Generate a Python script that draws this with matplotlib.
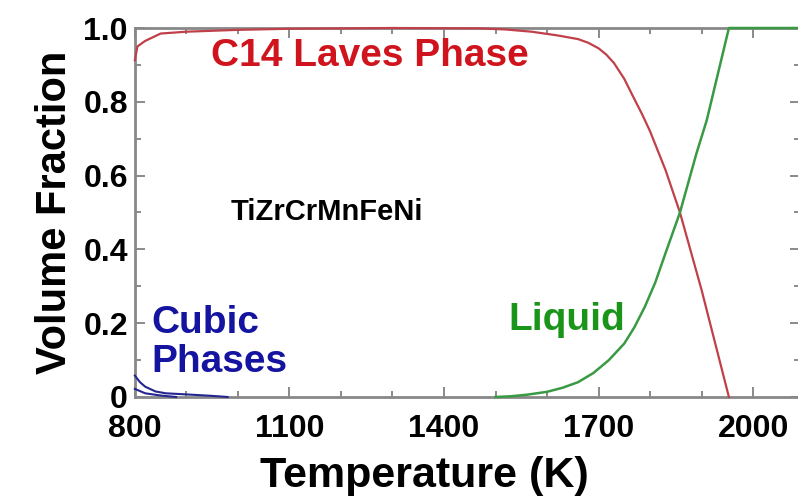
import numpy as np
import matplotlib.pyplot as plt
from matplotlib.ticker import MultipleLocator

plt.rcParams['font.family'] = ['Liberation Sans', 'DejaVu Sans']
plt.rcParams['font.weight'] = 'bold'

# C14 Laves phase
t_laves = [800, 805, 820, 850, 900, 1000, 1100, 1300, 1470, 1520, 1570, 1620, 1660, 1680,
           1700, 1715, 1730, 1750, 1765, 1785, 1800, 1830, 1858, 1900, 1953]
v_laves = [0.913, 0.95, 0.965, 0.985, 0.99, 0.995, 0.998, 1.0, 0.999, 0.996, 0.99,
           0.98, 0.97, 0.96, 0.945, 0.928, 0.905, 0.862, 0.82, 0.765, 0.72, 0.615,
           0.50, 0.29, 0.0]

# liquid
t_liq = [1500, 1530, 1560, 1600, 1630, 1660, 1690, 1720, 1750, 1770, 1790, 1810,
         1830, 1858, 1890, 1910, 1953, 2091]
v_liq = [0.0, 0.002, 0.006, 0.014, 0.025, 0.04, 0.065, 0.1, 0.145, 0.19, 0.245,
         0.31, 0.39, 0.50, 0.66, 0.75, 1.0, 1.0]

# cubic phases
t_cub1 = [800, 810, 820, 840, 860, 900, 950, 980]
v_cub1 = [0.058, 0.04, 0.028, 0.015, 0.01, 0.007, 0.003, 0.0]
t_cub2 = [800, 820, 850, 880]
v_cub2 = [0.022, 0.01, 0.004, 0.0]

xticks = [800, 1100, 1400, 1700, 2000]
yticks = [0, 0.2, 0.4, 0.6, 0.8, 1.0]
ylabels = ['0', '0.2', '0.4', '0.6', '0.8', '1.0']

fig = plt.figure(figsize=(7.98, 5.01), dpi=100)
ax = fig.add_axes([0.169, 0.2076, 0.8335, 0.7365])

red, green, blue = '#c0404a', '#3a9a44', '#25258f'
ax.plot(t_laves, v_laves, color=red, lw=1.6, clip_on=False, zorder=3)
ax.plot(t_liq, v_liq, color=green, lw=1.8, clip_on=False, zorder=3)
ax.plot(t_cub1, v_cub1, color=blue, lw=1.5, clip_on=False, zorder=3)
ax.plot(t_cub2, v_cub2, color=blue, lw=1.5, clip_on=False, zorder=3)

ax.set_xlim(800, 2091)
ax.set_ylim(0, 1.0)
ax.set_xticks(xticks)
ax.set_yticks(yticks)
ax.set_yticklabels(ylabels)
ax.xaxis.set_minor_locator(MultipleLocator(100))
ax.yaxis.set_minor_locator(MultipleLocator(0.1))
ax.tick_params(which='both', direction='in', top=True, right=True, color='#777777',
               width=1.2, labelsize=23)
ax.tick_params(axis='x', pad=12)
ax.tick_params(axis='y', pad=5)
ax.tick_params(which='major', length=7)
ax.tick_params(which='minor', length=4)
for s in ax.spines.values():
    s.set_color('#888888')
    s.set_linewidth(2)

ax.set_xlabel('Temperature (K)', fontsize=31, fontweight='bold')
ax.xaxis.set_label_coords(0.435, -0.16)
ax.set_ylabel('Volume Fraction', fontsize=30, fontweight='bold', labelpad=6)

ax.text(1256, 0.924, 'C14 Laves Phase', color='#d0141e', fontsize=28,
        fontweight='bold', ha='center', va='center')
ax.text(1173, 0.5, 'TiZrCrMnFeNi', color='black', fontsize=21,
        fontweight='bold', ha='center', va='center')
ax.text(833, 0.148, 'Cubic\nPhases', color='#1414a0', fontsize=28,
        fontweight='bold', ha='left', va='center', linespacing=1.1)
ax.text(1639, 0.21, 'Liquid', color='#1a951a', fontsize=28,
        fontweight='bold', ha='center', va='center')

plt.savefig('out.png', dpi=100)
